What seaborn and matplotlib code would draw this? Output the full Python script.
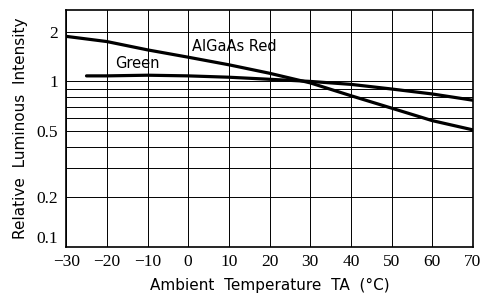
import numpy as np
import pandas as pd
import seaborn as sns
import matplotlib.pyplot as plt
from matplotlib.ticker import FixedLocator, NullFormatter

# valores
temp_red = [-30, -20, -10, 0, 10, 20, 30, 40, 50, 60, 70]
red = [1.87, 1.74, 1.55, 1.40, 1.26, 1.12, 0.98, 0.82, 0.69, 0.58, 0.51]

temp_green = [-25, -20, -10, 0, 10, 20, 30, 40, 50, 60, 70]
green = [1.08, 1.08, 1.09, 1.08, 1.06, 1.03, 1.00, 0.96, 0.90, 0.84, 0.77]

x_ticks = [-30, -20, -10, 0, 10, 20, 30, 40, 50, 60, 70]
y_ticks = [0.1, 0.2, 0.5, 1, 2]
y_ticklabels = ['0.1', '0.2', '0.5', '1', '2']
y_grid = [0.1, 0.2, 0.3, 0.4, 0.5, 0.6, 0.7, 0.8, 0.9, 1, 2]

df = pd.concat([
    pd.DataFrame({'temp': temp_red, 'rel': red, 'serie': 'AlGaAs Red'}),
    pd.DataFrame({'temp': temp_green, 'rel': green, 'serie': 'Green'}),
])

sns.set_style('white')
plt.rcParams['text.color'] = 'black'
plt.rcParams['axes.labelcolor'] = 'black'
plt.rcParams['xtick.color'] = 'black'
plt.rcParams['ytick.color'] = 'black'

fig = plt.figure(figsize=(4.83, 3.01), dpi=100)
ax = fig.add_axes([0.137, 0.179, 0.842, 0.788])

sns.lineplot(data=df, x='temp', y='rel', hue='serie', palette=['black', 'black'],
             linewidth=2.3, legend=False, ax=ax, sort=False)

ax.set_yscale('log')
ax.set_xlim(-30, 70)
ax.set_ylim(0.1, 2.7)

# grade
for v in y_grid:
    ax.axhline(v, color='black', linewidth=0.7, zorder=0)
for t in x_ticks:
    ax.axvline(t, color='black', linewidth=0.7, zorder=0)

ax.xaxis.set_major_locator(FixedLocator(x_ticks))
ax.set_xticklabels([str(t).replace('-', '\u2212') for t in x_ticks])
ax.yaxis.set_major_locator(FixedLocator(y_ticks))
ax.yaxis.set_minor_formatter(NullFormatter())
ax.set_yticklabels(y_ticklabels)
ax.tick_params(axis='both', which='both', length=0, labelsize=12.5)
ax.tick_params(axis='x', pad=5)
ax.tick_params(axis='y', pad=6)
for lab in ax.get_xticklabels() + ax.get_yticklabels():
    lab.set_fontfamily('Liberation Serif')
# o 0.1 fica um pouco acima do canto, como no original
ax.get_yticklabels()[0].set_verticalalignment('bottom')

for s in ax.spines.values():
    s.set_color('black')
    s.set_linewidth(1.2)

ax.text(1, 1.52, 'AlGaAs Red', fontsize=10.5)
ax.text(-18, 1.2, 'Green', fontsize=10.5)

ax.set_xlabel('Ambient  Temperature  TA  (°C)', fontsize=11, labelpad=6)
ax.set_ylabel('Relative  Luminous  Intensity', fontsize=11, labelpad=6)

fig.savefig('out.png', dpi=100)
